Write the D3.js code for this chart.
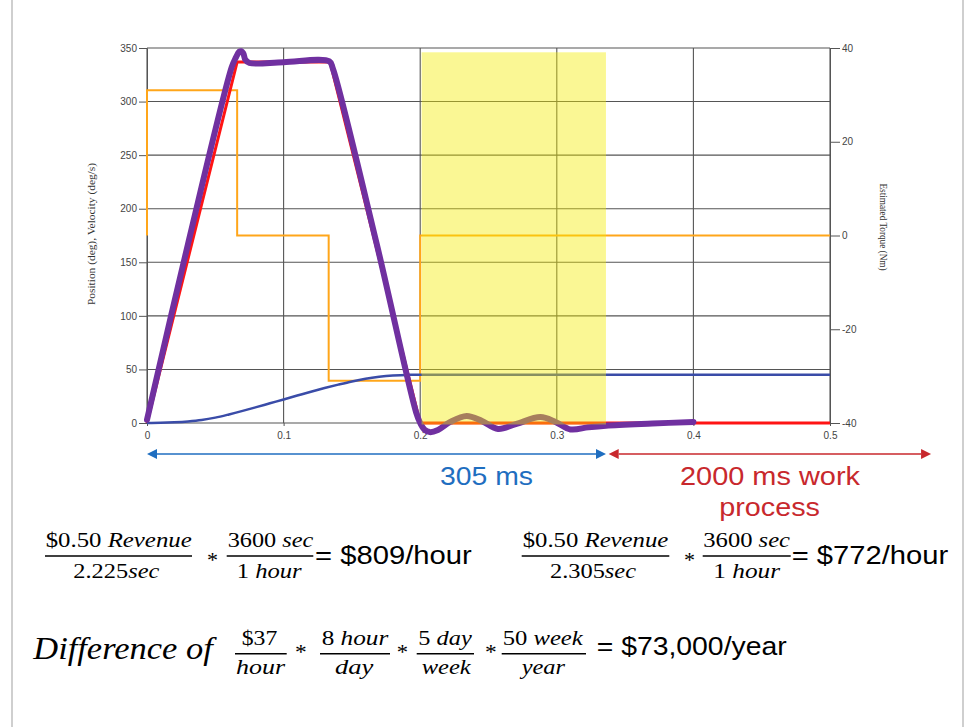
<!DOCTYPE html>
<html>
<head>
<meta charset="utf-8">
<script src="https://cdn.jsdelivr.net/npm/d3@7"></script>
<style>
  body { margin: 0; background: #fff; }
  svg { display: block; }
</style>
</head>
<body>
<div id="chart"></div>
<script>
// ---- data ----
const timeTicks = [0, 0.1, 0.2, 0.3, 0.4, 0.5];
const leftTicks = [0, 50, 100, 150, 200, 250, 300, 350];
const rightTicks = [-40, -20, 0, 20, 40];

// estimated torque (right axis, Nm), step series
const torqueTime = [0, 0, 0.066, 0.133, 0.2, 0.5];
const torqueVal = [0, 31, 0, -31, 0, 0];

// commanded velocity (deg/s)
const cmdTime = [0, 0.066, 0.134, 0.2, 0.5];
const cmdVal = [0, 337, 337, 0, 0];

// position (deg)
const posTime = [0, 0.01, 0.02, 0.03, 0.04, 0.05, 0.06, 0.07, 0.08, 0.09, 0.1, 0.11, 0.12, 0.13, 0.14,
  0.15, 0.16, 0.17, 0.18, 0.19, 0.2, 0.5];
const posVal = [0, 0.2, 0.7, 1.5, 2.8, 5, 8, 11.3, 14.8, 18.4, 22, 25.6, 29.2, 32.6, 35.8,
  38.8, 41.3, 43.1, 44.3, 44.9, 45, 45];

// actual velocity (deg/s)
const velTime = [0, 0.03, 0.062, 0.065, 0.0675, 0.069, 0.0705, 0.072, 0.075, 0.1, 0.1335, 0.136, 0.168, 0.197,
  0.2, 0.203, 0.207, 0.213, 0.222, 0.234, 0.245, 0.257, 0.27, 0.288, 0.299, 0.31, 0.323, 0.336, 0.37, 0.4];
const velVal = [3, 167, 332, 341, 346.5, 347, 345, 339, 336, 336.8, 337.5, 331, 168, 10,
  0, -6, -8.5, -6.5, 1, 6.5, 2, -5.5, -1, 5.5, 1, -6, -4, -2.5, -0.5, 1];

// highlighted window [start, end] in s, top in deg/s
const windowSpan = [0.201, 0.336];
const windowTop = 346;

// annotation arrows in s
const cycleSpan = [0, 0.336];
const workSpan = [0.338, 0.574];

// ---- layout ----
const W = 969, H = 727;
const plot = { left: 147, right: 830, top: 48, bottom: 423 };
const tickFont = "'Liberation Sans', Arial, sans-serif";
const serif = "'Liberation Serif', 'Times New Roman', serif";

const svg = d3.select("#chart").append("svg").attr("width", W).attr("height", H);

// light frame at the sides
[12, 963].forEach(xx => {
  svg.append("line").attr("x1", xx).attr("x2", xx).attr("y1", 0).attr("y2", H)
    .attr("stroke", "#cfcfcf").attr("stroke-width", 2);
});

const x = d3.scaleLinear().domain([0, 0.5]).range([plot.left, plot.right]);
const yL = d3.scaleLinear().domain([0, 350]).range([plot.bottom, plot.top]);
const yR = d3.scaleLinear().domain([-40, 40]).range([plot.bottom, plot.top]);

const zip = (a, b) => a.map((d, i) => [d, b[i]]);

// grid
const grid = svg.append("g").attr("stroke", "#555").attr("stroke-width", 1.1);
grid.selectAll(".hg").data(leftTicks).enter().append("line")
  .attr("x1", plot.left).attr("x2", plot.right)
  .attr("y1", d => yL(d)).attr("y2", d => yL(d));
grid.selectAll(".vg").data(timeTicks).enter().append("line")
  .attr("x1", d => x(d)).attr("x2", d => x(d))
  .attr("y1", plot.top).attr("y2", plot.bottom);

// axes
function styleAxis(g) {
  g.select(".domain").attr("stroke", "#555");
  g.selectAll(".tick line").attr("stroke", "#555");
  g.selectAll("text").style("font-family", tickFont).style("font-size", "10px").attr("fill", "#444");
}
svg.append("g").attr("transform", `translate(${plot.left},0)`)
  .call(d3.axisLeft(yL).tickValues(leftTicks).tickSize(8).tickSizeOuter(0).tickPadding(2))
  .call(styleAxis);
svg.append("g").attr("transform", `translate(${plot.right},0)`)
  .call(d3.axisRight(yR).tickValues(rightTicks).tickSize(10).tickSizeOuter(0).tickPadding(2)
    .tickFormat(d => String(d)))
  .call(styleAxis);
svg.append("g").attr("transform", `translate(0,${plot.bottom})`)
  .call(d3.axisBottom(x).tickValues(timeTicks).tickSize(3).tickSizeOuter(0).tickPadding(6).tickFormat(d => String(d)))
  .call(g => g.select(".domain").remove())
  .call(styleAxis);

// axis titles
svg.append("text").attr("transform", "translate(95,234) rotate(-90)")
  .attr("text-anchor", "middle").style("font-family", serif).style("font-size", "9.5px")
  .attr("fill", "#333").attr("textLength", 142).attr("lengthAdjust", "spacingAndGlyphs")
  .text("Position (deg), Velocity (deg/s)");
svg.append("text").attr("transform", "translate(880,227) rotate(90)")
  .attr("text-anchor", "middle").style("font-family", serif).style("font-size", "9.5px")
  .attr("fill", "#333").attr("textLength", 87).attr("lengthAdjust", "spacingAndGlyphs")
  .text("Estimated Torque (Nm)");

// series
const lineL = d3.line().x(d => x(d[0])).y(d => yL(d[1]));
const lineR = d3.line().x(d => x(d[0])).y(d => yR(d[1])).curve(d3.curveStepAfter);

svg.append("path").datum(zip(torqueTime, torqueVal)).attr("d", lineR)
  .attr("fill", "none").attr("stroke", "#ffa61a").attr("stroke-width", 2);
svg.append("path").datum(zip(cmdTime, cmdVal)).attr("d", lineL)
  .attr("fill", "none").attr("stroke", "#ff1414").attr("stroke-width", 3);
svg.append("path").datum(zip(posTime, posVal))
  .attr("d", d3.line().x(d => x(d[0])).y(d => yL(d[1])).curve(d3.curveMonotoneX))
  .attr("fill", "none").attr("stroke", "#3a4ca8").attr("stroke-width", 2.5);
svg.append("path").datum(zip(velTime, velVal))
  .attr("d", d3.line().x(d => x(d[0])).y(d => yL(d[1])).curve(d3.curveCatmullRom.alpha(0.5)))
  .attr("fill", "none").attr("stroke", "#7030a0").attr("stroke-width", 6)
  .attr("stroke-linecap", "round").attr("stroke-linejoin", "round");

// highlight window
svg.append("rect")
  .attr("x", x(windowSpan[0])).attr("width", x(windowSpan[1]) - x(windowSpan[0]))
  .attr("y", yL(windowTop)).attr("height", yL(0) - yL(windowTop) + 1.5)
  .attr("fill", "#f2ec00").attr("opacity", 0.42);

// arrows
function arrow(span, color) {
  const y0 = 454, x0 = x(span[0]), x1 = x(span[1]), hl = 10, hw = 5;
  svg.append("line").attr("x1", x0 + hl).attr("x2", x1 - hl).attr("y1", y0).attr("y2", y0)
    .attr("stroke", color).attr("stroke-width", 1.5);
  svg.append("path").attr("d", `M${x0},${y0}L${x0 + hl},${y0 - hw}L${x0 + hl},${y0 + hw}Z`).attr("fill", color);
  svg.append("path").attr("d", `M${x1},${y0}L${x1 - hl},${y0 - hw}L${x1 - hl},${y0 + hw}Z`).attr("fill", color);
}
arrow(cycleSpan, "#1f6ec0");
arrow(workSpan, "#c8282d");

// text helper: parts = [[string, italic], ...]
function put(xx, yy, parts, size, len, font, color) {
  const t = svg.append("text").attr("x", xx).attr("y", yy)
    .style("font-family", font || serif).style("font-size", size + "px").attr("fill", color || "#000");
  if (len) t.attr("textLength", len).attr("lengthAdjust", "spacingAndGlyphs");
  parts.forEach(p => t.append("tspan").style("font-style", p[1] ? "italic" : "normal").text(p[0]));
  return t;
}
function bar(x0, x1, yy) {
  svg.append("line").attr("x1", x0).attr("x2", x1).attr("y1", yy).attr("y2", yy)
    .attr("stroke", "#000").attr("stroke-width", 1.4);
}

put(440, 485, [["305 ms", 0]], 26, 93, tickFont, "#1f6ec0");
put(680, 485, [["2000 ms work", 0]], 26, 180, tickFont, "#c8282d");
put(719.3, 516, [["process", 0]], 26, 100.7, tickFont, "#c8282d");

// first rate equation
put(45.7, 547.3, [["$0.50 ", 0], ["Revenue", 1]], 20, 146);
bar(45, 192, 556);
put(73.3, 577.7, [["2.225", 0], ["sec", 1]], 20, 86);
put(207, 567, [["*", 0]], 20, 11);
put(227.7, 547.3, [["3600 ", 0], ["sec", 1]], 20, 85.6);
bar(226.7, 313.3, 556);
put(236.7, 577.7, [["1 ", 0], ["hour", 1]], 20, 65);
put(315, 564, [["= $809/hour", 0]], 25, 156.7, tickFont);

// second rate equation
put(522.7, 547.3, [["$0.50 ", 0], ["Revenue", 1]], 20, 145.6);
bar(521.7, 669.3, 556);
put(550, 577.7, [["2.305", 0], ["sec", 1]], 20, 86);
put(684, 567, [["*", 0]], 20, 11);
put(703.3, 547.3, [["3600 ", 0], ["sec", 1]], 20, 86.7);
bar(702.7, 790.7, 556);
put(713.3, 577.7, [["1 ", 0], ["hour", 1]], 20, 66.7);
put(791.7, 564, [["= $772/hour", 0]], 25, 156.6, tickFont);

// yearly difference
put(33.3, 658.7, [["Difference of", 1]], 32, 179.4);
put(241.7, 645.3, [["$37", 0]], 20, 35.6);
bar(235, 286.7, 653.7);
put(236, 673.7, [["hour", 1]], 20, 49);
put(295, 659, [["*", 0]], 20, 11.7);
put(321.7, 645.3, [["8 ", 0], ["hour", 1]], 20, 66.6);
bar(320, 390, 653.7);
put(335, 673.7, [["day", 1]], 20, 38.3);
put(396.7, 659, [["*", 0]], 20, 11.3);
put(418.3, 645.3, [["5 ", 0], ["day", 1]], 20, 53.4);
bar(416.7, 474, 653.7);
put(421.7, 673.7, [["week", 1]], 20, 49);
put(485, 659, [["*", 0]], 20, 11.7);
put(502.7, 645.3, [["50 ", 0], ["week", 1]], 20, 80);
bar(501.7, 586, 653.7);
put(521.7, 673.7, [["year", 1]], 20, 43.3);
put(596.7, 655.3, [["= $73,000/year", 0]], 25, 190, tickFont);
</script>
</body>
</html>
